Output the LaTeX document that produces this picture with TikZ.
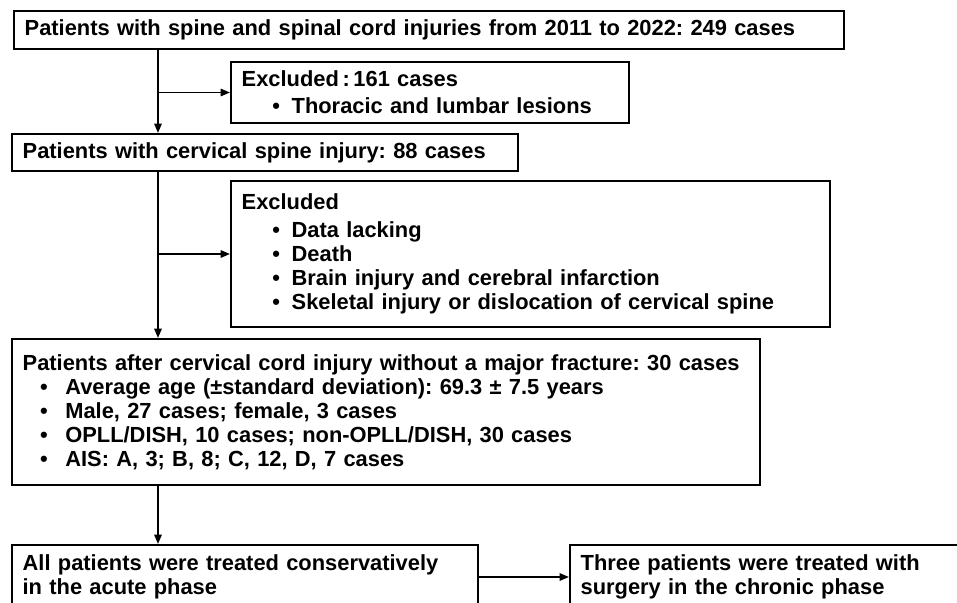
\documentclass[tikz,border=0pt]{standalone}
\usepackage{fontspec}
\setmainfont{Liberation Sans}
\usetikzlibrary{arrows.meta}
\newcommand{\bitem}[3]{\makebox[#1][l]{\hspace*{#2}\textbullet}#3}
\frenchspacing

\begin{document}
\begin{tikzpicture}[x=0.75pt, y=-0.75pt,
  flowbox/.style={draw, line width=1.5pt, anchor=north west, align=left, inner xsep=8pt, inner ysep=0pt, font=\bfseries\fontsize{16.4}{18}\selectfont},
  flowarrow/.style={line width=1.4pt, -{Triangle[length=7pt,width=5.5pt]}}]
\useasboundingbox (0,0) rectangle (957,603);
\clip (0,0) rectangle (957,603);
\node[flowbox, text width=606.5pt, minimum height=28.5pt] (total) at (13,10) {Patients with spine and spinal cord injuries from 2011 to 2022: 249 cases};
\node[flowbox, text width=282.5pt, minimum height=45.75pt] (excl1) at (230,61) {Excluded\,:\,161 cases\\[2pt]
  \bitem{37.5pt}{23pt}{Thoracic and lumbar lesions}};
\node[flowbox, text width=363.5pt, minimum height=27.75pt] (cervical) at (11,133) {Patients with cervical spine injury: 88 cases};
\node[flowbox, text width=433.25pt, minimum height=109.5pt] (excl2) at (230,180) {Excluded\\[3pt]
  \bitem{37.5pt}{23pt}{Data lacking}\\
  \bitem{37.5pt}{23pt}{Death}\\
  \bitem{37.5pt}{23pt}{Brain injury and cerebral infarction}\\
  \bitem{37.5pt}{23pt}{Skeletal injury or dislocation of cervical spine}};
\node[flowbox, text width=545pt, minimum height=109.5pt] (afterinj) at (11,338) {Patients after cervical cord injury without a major fracture: 30 cases\\
  \bitem{32pt}{13pt}{Average age (±standard deviation): 69.3 ± 7.5 years}\\
  \bitem{32pt}{13pt}{Male, 27 cases; female, 3 cases}\\
  \bitem{32pt}{13pt}{OPLL/DISH, 10 cases; non-OPLL/DISH, 30 cases}\\
  \bitem{32pt}{13pt}{AIS: A, 3; B, 8; C, 12, D, 7 cases}};
\node[flowbox, text width=333.5pt, minimum height=48pt] (acute) at (11,544) {All patients were treated conservatively\\in the acute phase};
\node[flowbox, text width=299pt, minimum height=48pt] (surgery) at (569,544) {Three patients were treated with\\surgery in the chronic phase};
\coordinate (trunk) at (158,0);
\draw[flowarrow] (total.south -| trunk) -- (cervical.north -| trunk);
\draw[flowarrow] (excl1.west -| trunk) -- (excl1.west);
\draw[flowarrow] (cervical.south -| trunk) -- (afterinj.north -| trunk);
\draw[flowarrow] (excl2.west -| trunk) -- (excl2.west);
\draw[flowarrow] (afterinj.south -| trunk) -- (acute.north -| trunk);
\draw[flowarrow] (acute.east) -- (surgery.west);
\end{tikzpicture}
\end{document}
